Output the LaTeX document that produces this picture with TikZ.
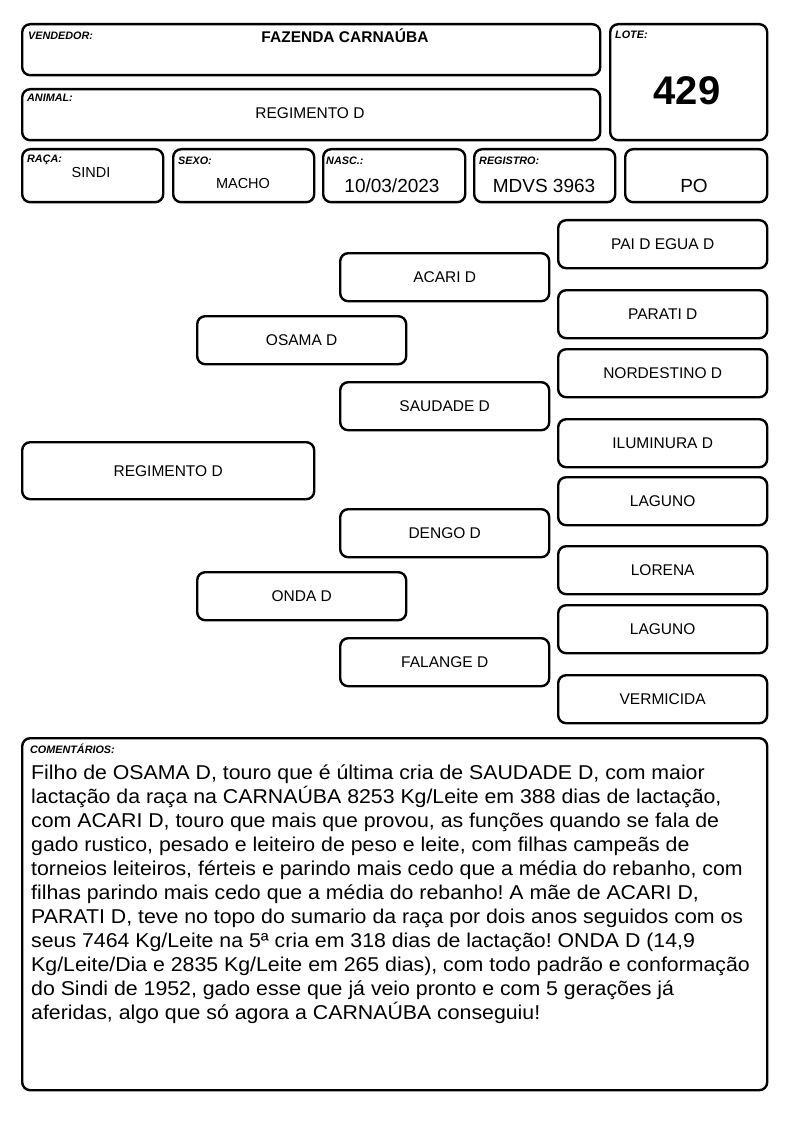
\documentclass[tikz,border=0pt]{standalone}
\usepackage{fontspec}
\setmainfont{Liberation Sans}
\newfontfamily\comfont[FakeStretch=1.065]{Liberation Sans}
\frenchspacing

\begin{document}
\begin{tikzpicture}[x=1pt, y=-1pt,
  box/.style={draw=black, line width=2.4pt, rounded corners=8pt, anchor=north west, inner sep=0pt},
  ped/.style={box, minimum width=209, minimum height=48, font=\fontsize{15.5}{18}\selectfont},
  tag/.style={anchor=base west, inner sep=0pt, font=\bfseries\itshape\fontsize{10.8}{12}\selectfont},
  val/.style={anchor=base, inner sep=0pt, font=\fontsize{14.5}{17}\selectfont},
  big/.style={anchor=base, inner sep=0pt, font=\fontsize{19}{22}\selectfont}]

\useasboundingbox (0,0) rectangle (794,1123);

% cabecalho
\node [box, minimum width=578, minimum height=51] (vendedor) at (21,23) {};
\node [tag] at (28,40) {VENDEDOR:};
\node [anchor=base, inner sep=0pt, font=\bfseries\fontsize{15.5}{18}\selectfont] (fazenda) at (345,43) {FAZENDA CARNAÚBA};

\node [box, minimum width=157, minimum height=116] (lote) at (609,23) {};
\node [tag] at (615,39) {LOTE:};
\node [anchor=base, inner sep=0pt, font=\bfseries\fontsize{40}{44}\selectfont] (numlote) at (687,105) {429};

\node [box, minimum width=578, minimum height=51] (animal) at (21,88) {};
\node [tag] at (27,102) {ANIMAL:};
\node [val, font=\fontsize{15.5}{18}\selectfont] (nomeanimal) at (310,119) {REGIMENTO D};

\node [box, minimum width=141, minimum height=53] (raca) at (21,148) {};
\node [tag] at (27,163) {RAÇA:};
\node [val] (sindi) at (91,178) {SINDI};

\node [box, minimum width=141, minimum height=53] (sexo) at (172,148) {};
\node [tag] at (178,165) {SEXO:};
\node [val] (macho) at (243,189) {MACHO};

\node [box, minimum width=142, minimum height=53] (nasc) at (322,148) {};
\node [tag] at (326,165) {NASC.:};
\node [big] (data) at (392,193) {10/03/2023};

\node [box, minimum width=141, minimum height=53] (registro) at (473,148) {};
\node [tag] at (479,165) {REGISTRO:};
\node [big] (mdvs) at (544,193) {MDVS 3963};

\node [box, minimum width=142, minimum height=53] (po) at (624,148) {};
\node [big] (potxt) at (694,193) {PO};

% genealogia
\node [box, minimum width=292, minimum height=57, font=\fontsize{15.5}{18}\selectfont] (regimento) at (21,441) {REGIMENTO D};

\node [ped] (osama) at (196,315) {OSAMA D};
\node [ped] (onda) at (196,571) {ONDA D};

\node [ped] (acari) at (339,252) {ACARI D};
\node [ped] (saudade) at (339,381) {SAUDADE D};
\node [ped] (dengo) at (339,508) {DENGO D};
\node [ped] (falange) at (339,637) {FALANGE D};

\node [ped] (paidegua) at (557,219) {PAI D EGUA D};
\node [ped] (parati) at (557,289) {PARATI D};
\node [ped] (nordestino) at (557,348) {NORDESTINO D};
\node [ped] (iluminura) at (557,418) {ILUMINURA D};
\node [ped] (laguno) at (557,476) {LAGUNO};
\node [ped] (lorena) at (557,545) {LORENA};
\node [ped] (lagunob) at (557,604) {LAGUNO};
\node [ped] (vermicida) at (557,674) {VERMICIDA};

% comentarios
\node [box, minimum width=745, minimum height=352] (comentarios) at (21,737) {};
\node [tag] at (30,753) {COMENTÁRIOS:};
\node [anchor=north west, inner sep=0pt, align=left, font=\comfont\fontsize{20}{24}\selectfont] (texto) at (31,765) {Filho de OSAMA D, touro que é última cria de SAUDADE D, com maior\\
lactação da raça na CARNAÚBA 8253 Kg/Leite em 388 dias de lactação,\\
com ACARI D, touro que mais que provou, as funções quando se fala de\\
gado rustico, pesado e leiteiro de peso e leite, com filhas campeãs de\\
torneios leiteiros, férteis e parindo mais cedo que a média do rebanho, com\\
filhas parindo mais cedo que a média do rebanho! A mãe de ACARI D,\\
PARATI D, teve no topo do sumario da raça por dois anos seguidos com os\\
seus 7464 Kg/Leite na 5ª cria em 318 dias de lactação! ONDA D (14,9\\
Kg/Leite/Dia e 2835 Kg/Leite em 265 dias), com todo padrão e conformação\\
do Sindi de 1952, gado esse que já veio pronto e com 5 gerações já\\
aferidas, algo que só agora a CARNAÚBA conseguiu!};
\end{tikzpicture}
\end{document}
